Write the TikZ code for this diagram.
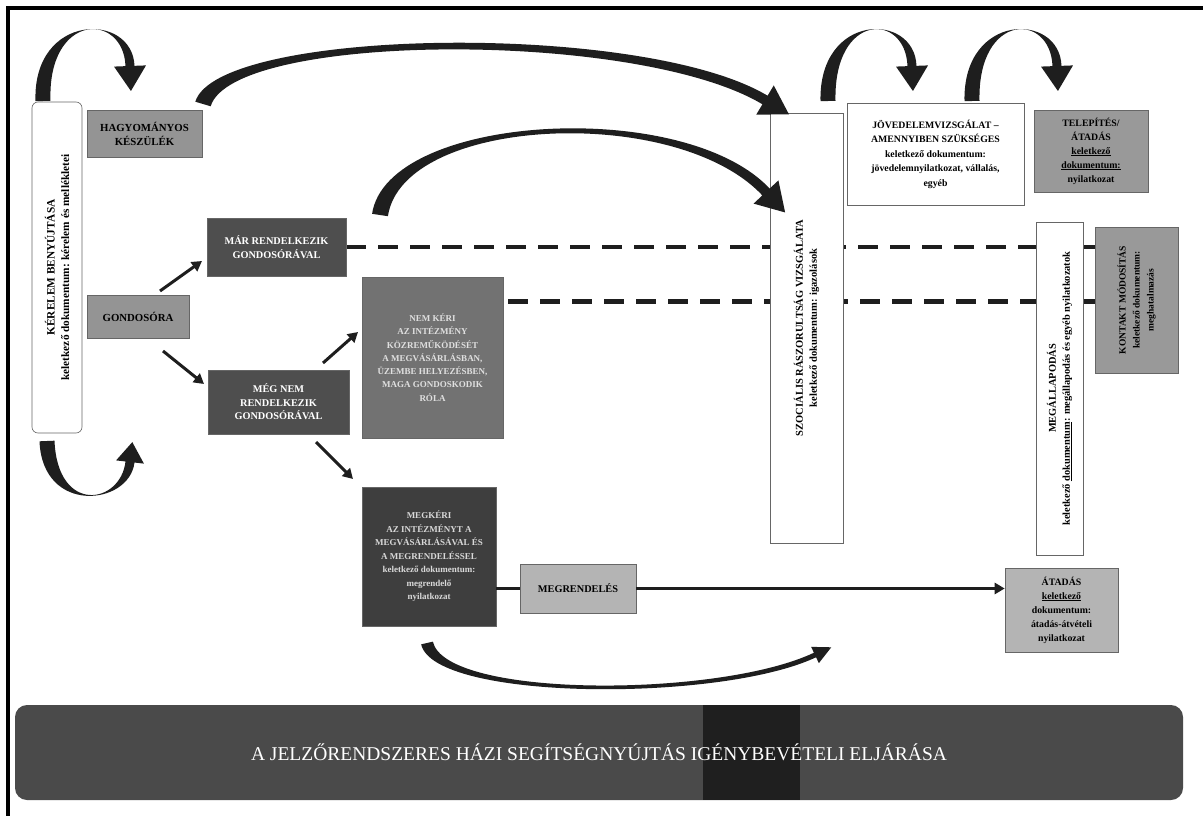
\documentclass[tikz,border=0pt]{standalone}
\usepackage{fontspec}
\setmainfont{Liberation Serif}
\usetikzlibrary{calc,arrows.meta,backgrounds}
\definecolor{boxlight}{HTML}{B4B4B4}
\definecolor{boxmid}{HTML}{949494}
\definecolor{boxnem}{HTML}{727272}
\definecolor{boxdark}{HTML}{4E4E4E}
\definecolor{boxdarker}{HTML}{3E3E3E}
\definecolor{bandgray}{HTML}{4A4A4A}
\definecolor{inkline}{HTML}{1E1E1E}
\newcommand{\myblockarrow}[8]{%
\fill[blockarrow] ($(#1)!#5!90:(#2)$) .. controls ($(#2)!#5!-90:(#1)$) and ($(#3)!#6!90:(#4)$) .. ($(#4)!#6!-90:(#3)$) -- ($(#4)!#7!-90:(#3)$) -- ($(#4)!-#8!(#3)$) -- ($(#4)!#7!90:(#3)$) -- ($(#4)!#6!90:(#3)$) .. controls ($(#3)!#6!-90:(#4)$) and ($(#2)!#5!90:(#1)$) .. ($(#1)!#5!-90:(#2)$) -- cycle;}
\tikzset{
  basebox/.style={draw=black!60, line width=0.6pt, align=center, inner sep=2pt,
    font=\bfseries\fontsize{10.3}{13.5}\selectfont},
  whitebox/.style={basebox, fill=white},
  graybox/.style={basebox, fill=boxmid, text=black},
  lightbox/.style={basebox, fill=boxlight, text=black},
  darkbox/.style={basebox, fill=boxdark, text=white},
  blockarrow/.style={fill=inkline},
  sarrow/.style={draw=inkline, line width=3pt, -{Triangle[length=10pt,width=11pt]}},
  dashline/.style={draw=inkline, line width=4.5pt, dash pattern=on 20pt off 12pt},
  plainline/.style={draw=inkline, line width=2.5pt},
}
\begin{document}
\begin{tikzpicture}[x=1pt,y=-1pt]
\useasboundingbox (0,0) rectangle (1203,816);
% boxes
\node[whitebox, rounded corners=6pt, rotate=90, minimum width=331, minimum height=50,
  font=\bfseries\fontsize{11.3}{14.5}\selectfont] (kerelem) at (57,267.5)
  {KÉRELEM BENYÚJTÁSA\\keletkező dokumentum: kérelem és mellékletei};
\node[graybox, minimum width=115, minimum height=47, font=\bfseries\fontsize{10.8}{14}\selectfont] (hagy) at (144.5,133.5) {HAGYOMÁNYOS\\KÉSZÜLÉK};
\node[graybox, minimum width=102, minimum height=43, font=\bfseries\fontsize{10.8}{14}\selectfont] (gond) at (138,316.5) {GONDOSÓRA};
\node[darkbox, minimum width=139, minimum height=58] (mar) at (276.5,247) {MÁR RENDELKEZIK\\GONDOSÓRÁVAL};
\node[darkbox, minimum width=141, minimum height=64] (megnem) at (278.5,402) {MÉG NEM\\RENDELKEZIK\\GONDOSÓRÁVAL};
\node[basebox, fill=boxnem, text=black!12, minimum width=141, minimum height=161,
  font=\bfseries\fontsize{9}{13.3}\selectfont] (nemkeri) at (432.5,357.5)
  {NEM KÉRI\\AZ INTÉZMÉNY\\KÖZREMŰKÖDÉSÉT\\A MEGVÁSÁRLÁSBAN,\\ÜZEMBE HELYEZÉSBEN,\\MAGA GONDOSKODIK\\RÓLA};
\node[basebox, fill=boxdarker, text=black!15, minimum width=134, minimum height=139,
  font=\bfseries\fontsize{9}{13.5}\selectfont] (megkeri) at (429,556.5)
  {MEGKÉRI\\AZ INTÉZMÉNYT A\\MEGVÁSÁRLÁSÁVAL ÉS\\A MEGRENDELÉSSEL\\keletkező dokumentum:\\megrendelő\\nyilatkozat};
\node[lightbox, minimum width=116, minimum height=49] (megr) at (578,588.5) {MEGRENDELÉS};
\node[whitebox, rotate=90, minimum width=430, minimum height=73,
  font=\bfseries\fontsize{10.5}{14}\selectfont] (szoc) at (806.5,328)
  {SZOCIÁLIS RÁSZORULTSÁG VIZSGÁLATA\\keletkező dokumentum: igazolások};
\node[whitebox, minimum width=177, minimum height=102, font=\bfseries\fontsize{9.8}{14.5}\selectfont] (jov) at (935.5,154)
  {JÖVEDELEMVIZSGÁLAT –\\AMENNYIBEN SZÜKSÉGES\\keletkező dokumentum:\\jövedelemnyilatkozat, vállalás,\\egyéb};
\node[graybox, fill=boxlight!85!black, minimum width=114, minimum height=82, font=\bfseries\fontsize{9.8}{14}\selectfont] (telep) at (1091,151)
  {TELEPÍTÉS/\\ÁTADÁS\\\underline{keletkező}\\\underline{dokumentum:}\\nyilatkozat};
\node[whitebox, rotate=90, minimum width=333, minimum height=47,
  font=\bfseries\fontsize{10.4}{14}\selectfont] (megall) at (1059.5,388.5)
  {MEGÁLLAPODÁS\\keletkező \underline{dokumentum}: megállapodás és egyéb nyilatkozatok};
\node[graybox, fill=boxlight!85!black, rotate=90, minimum width=146, minimum height=83,
  font=\bfseries\fontsize{9.5}{14}\selectfont] (kontakt) at (1136.5,300)
  {KONTAKT MÓDOSÍTÁS\\keletkező dokumentum:\\meghatalmazás};
\node[lightbox, minimum width=113, minimum height=84, font=\bfseries\fontsize{9.8}{14}\selectfont] (atad) at (1061.5,610)
  {ÁTADÁS\\\underline{keletkező}\\dokumentum:\\átadás-átvételi\\nyilatkozat};
% title band
\node[fill=bandgray, rounded corners=12pt, minimum width=1168, minimum height=95, inner sep=0pt] (band) at (599,752.5) {};
\fill[black!88] (703,705) rectangle (800,800);
\node[text=white, font=\fontsize{19.5}{22}\selectfont] (title) at (band.center)
  {A JELZŐRENDSZERES HÁZI SEGÍTSÉGNYÚJTÁS IGÉNYBEVÉTELI ELJÁRÁSA};
% background layer: page, dashed lines
\begin{scope}[on background layer]
\fill[white] (0,0) rectangle (1203,816);
\draw[dashline] (mar.east) -- (mar.east -| kontakt.south);
\path (nemkeri.north east) ++(5,25) coordinate (d2s);
\draw[dashline] (d2s) -- (d2s -| kontakt.south);
\end{scope}
% frame
\coordinate (fr1) at (8,816); \coordinate (fr2) at (8,8); \coordinate (fr3) at (1203,8);
\draw[line width=4pt, black] (fr1) -- (fr2) -- (fr3);
% straight arrows
\coordinate (a1s) at (160,291); \coordinate (a1e) at (202,261);
\coordinate (a2s) at (163,351); \coordinate (a2e) at (204,384);
\coordinate (a3s) at (323,363); \coordinate (a3e) at (358,332);
\coordinate (a4s) at (316,442); \coordinate (a4e) at (353,479);
\draw[sarrow] (a1s) -- (a1e);
\draw[sarrow] (a2s) -- (a2e);
\draw[sarrow] (a3s) -- (a3e);
\draw[sarrow] (a4s) -- (a4e);
\draw[plainline] (megr.west -| megkeri.east) -- (megr.west);
\draw[sarrow, line width=2.5pt] (megr.east) -- (megr.east -| atad.west);
% block arrows
\myblockarrow{43,101}{40,12}{128,12}{130,66}{7.5pt}{4.5pt}{16pt}{25pt}
\myblockarrow{203,104}{225,30}{640,25}{765,100}{8pt}{5pt}{17pt}{28pt}
\myblockarrow{380,215}{395,115}{680,100}{766,192}{8pt}{5pt}{17pt}{28pt}
\myblockarrow{828,101}{826,12}{910,12}{912,66}{7.5pt}{4.5pt}{16pt}{25pt}
\myblockarrow{972,101}{970,12}{1055,12}{1057,66}{7.5pt}{4.5pt}{16pt}{25pt}
\myblockarrow{47,441}{50,515}{125,505}{130,462}{7.5pt}{4.5pt}{14pt}{20pt}
\myblockarrow{427,643}{440,700}{720,700}{815,655}{6pt}{2.5pt}{9pt}{18pt}
\end{tikzpicture}
\end{document}
